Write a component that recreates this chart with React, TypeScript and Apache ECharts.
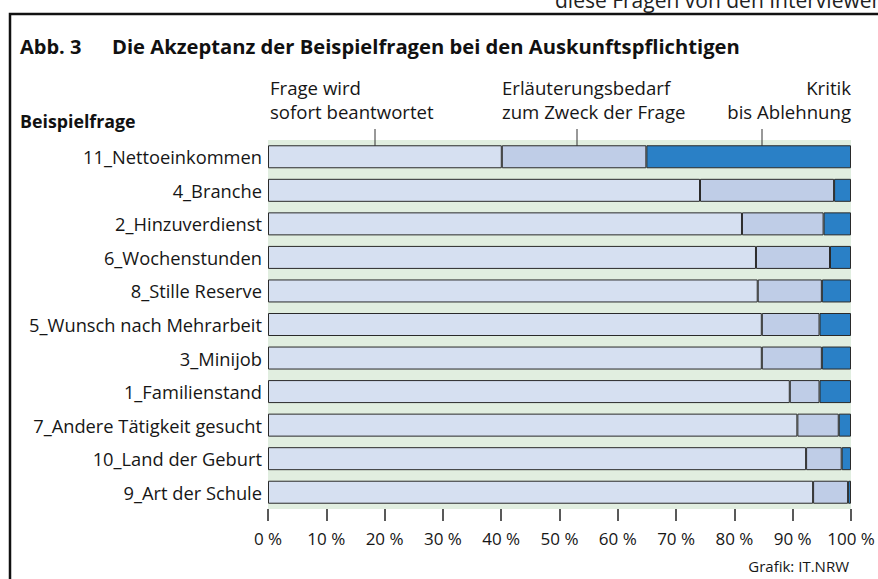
import React, { useEffect, useRef } from "react";
import * as echarts from "echarts";

const categories = [
  "11_Nettoeinkommen",
  "4_Branche",
  "2_Hinzuverdienst",
  "6_Wochenstunden",
  "8_Stille Reserve",
  "5_Wunsch nach Mehrarbeit",
  "3_Minijob",
  "1_Familienstand",
  "7_Andere Tätigkeit gesucht",
  "10_Land der Geburt",
  "9_Art der Schule",
];
const sofort = [40.1, 74.1, 81.3, 83.7, 84.0, 84.7, 84.7, 89.5, 90.8, 92.3, 93.5];
const erlaeuterung = [24.8, 23.0, 14.0, 12.7, 11.0, 9.9, 10.3, 5.1, 7.1, 6.1, 6.0];
const kritik = [35.1, 2.9, 4.7, 3.6, 5.0, 5.4, 5.0, 5.4, 2.1, 1.6, 0.5];
const seriesNames = ["Frage wird sofort beantwortet", "Erläuterungsbedarf zum Zweck der Frage", "Kritik bis Ablehnung"];
const title = "Die Akzeptanz der Beispielfragen bei den Auskunftspflichtigen";

const FONT = "'Open Sans', 'Noto Sans', sans-serif";

export default function App() {
  const ref = useRef<HTMLDivElement>(null);
  useEffect(() => {
    if (!ref.current) return;
    const chart = echarts.init(ref.current, undefined, { renderer: "svg" });
    const colors = ["#d6e0f1", "#bfcde7", "#2a80c6"];
    const data = [sofort, erlaeuterung, kritik];
    const txt = "#161616";
    chart.setOption({
      animation: false,
      backgroundColor: "#ffffff",
      textStyle: { fontFamily: FONT },
      grid: {
        left: 268,
        right: 27,
        top: 140,
        bottom: 70,
        show: true,
        backgroundColor: "#e1eee0",
        borderWidth: 0,
      },
      xAxis: {
        type: "value",
        min: 0,
        max: 100,
        interval: 10,
        axisLine: { show: false },
        splitLine: { show: false },
        axisTick: { show: true, length: 12, lineStyle: { color: "#222", width: 1.5 } },
        axisLabel: {
          formatter: "{value} %",
          color: txt,
          fontSize: 17,
          margin: 21,
          fontFamily: FONT,
        },
      },
      yAxis: {
        type: "category",
        data: categories,
        inverse: true,
        axisLine: { show: false },
        axisTick: { show: false },
        axisLabel: { color: txt, fontSize: 18.3, margin: 6, fontFamily: FONT },
      },
      series: data.map((d, i) => ({
        name: seriesNames[i],
        type: "bar",
        stack: "total",
        data: d,
        barWidth: 23,
        itemStyle: { color: colors[i], borderColor: "#2a2a2a", borderWidth: 1 },
      })),
      graphic: [
        {
          type: "rect",
          shape: { x: 10, y: 14, width: 900, height: 600 },
          style: { fill: "none", stroke: "#111", lineWidth: 2.5 },
          silent: true,
        },
        {
          type: "text",
          x: 555,
          y: -11,
          style: { text: "diese Fragen von den Interviewern", font: `21px ${FONT}`, fill: "#222" },
        },
        {
          type: "text",
          x: 20,
          y: 46,
          style: { text: "Abb. 3", font: `bold 20px ${FONT}`, fill: "#111", verticalAlign: "middle" },
        },
        {
          type: "text",
          x: 112,
          y: 46,
          style: { text: title, font: `bold 20.2px ${FONT}`, fill: "#111", verticalAlign: "middle" },
        },
        {
          type: "text",
          x: 20,
          y: 121,
          style: { text: "Beispielfrage", font: `bold 17.8px ${FONT}`, fill: "#111", verticalAlign: "middle" },
        },
        {
          type: "text",
          x: 270,
          y: 87,
          style: { text: "Frage wird", font: `18.6px ${FONT}`, fill: txt, verticalAlign: "middle" },
        },
        {
          type: "text",
          x: 270,
          y: 111,
          style: { text: "sofort beantwortet", font: `18.6px ${FONT}`, fill: txt, verticalAlign: "middle" },
        },
        {
          type: "text",
          x: 502,
          y: 87,
          style: { text: "Erläuterungsbedarf", font: `18.6px ${FONT}`, fill: txt, verticalAlign: "middle" },
        },
        {
          type: "text",
          x: 502,
          y: 111,
          style: { text: "zum Zweck der Frage", font: `18.6px ${FONT}`, fill: txt, verticalAlign: "middle" },
        },
        {
          type: "text",
          x: 851,
          y: 87,
          style: { text: "Kritik", font: `18.6px ${FONT}`, fill: txt, verticalAlign: "middle", align: "right" },
        },
        {
          type: "text",
          x: 851,
          y: 111,
          style: { text: "bis Ablehnung", font: `18.6px ${FONT}`, fill: txt, verticalAlign: "middle", align: "right" },
        },
        { type: "line", shape: { x1: 375, y1: 129, x2: 375, y2: 146 }, style: { stroke: "#333", lineWidth: 1 } },
        { type: "line", shape: { x1: 577, y1: 129, x2: 577, y2: 146 }, style: { stroke: "#333", lineWidth: 1 } },
        { type: "line", shape: { x1: 762, y1: 129, x2: 762, y2: 146 }, style: { stroke: "#333", lineWidth: 1 } },
        {
          type: "text",
          x: 849,
          y: 566,
          style: { text: "Grafik: IT.NRW", font: `15px ${FONT}`, fill: txt, verticalAlign: "middle", align: "right" },
        },
      ],
    });
    return () => chart.dispose();
  }, []);
  return (
    <div
      ref={ref}
      style={{ position: "fixed", left: 0, top: 0, width: 878, height: 579 }}
    />
  );
}
